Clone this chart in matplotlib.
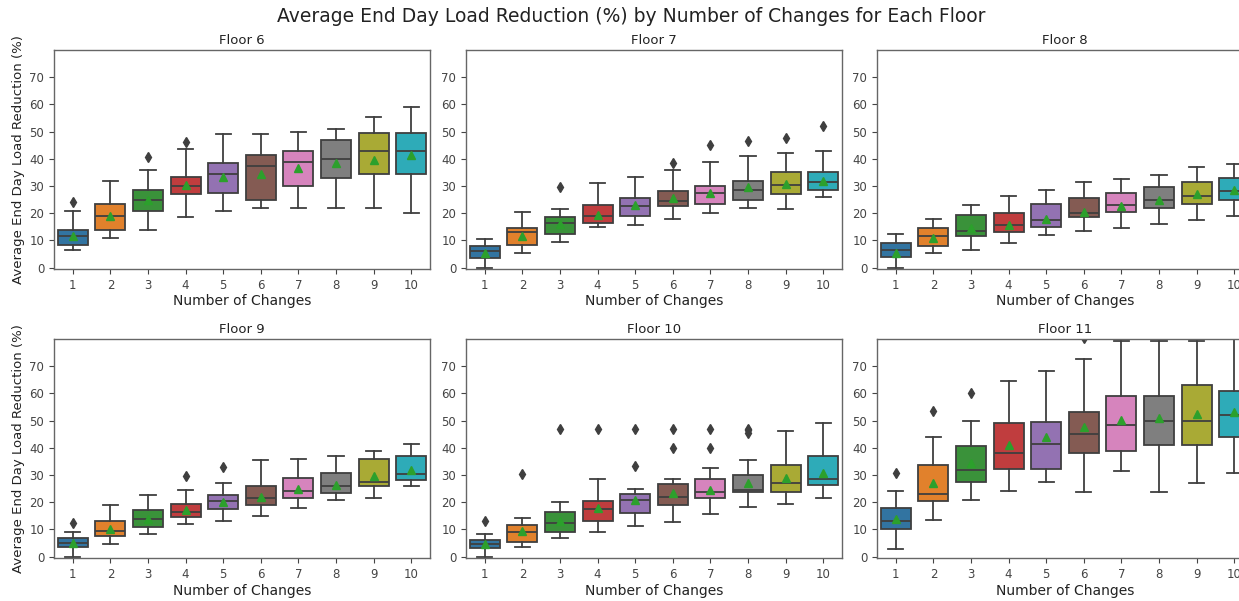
import colorsys
import matplotlib
matplotlib.use("Agg")
import matplotlib.pyplot as plt
import matplotlib.colors as mcolors

changes = [1, 2, 3, 4, 5, 6, 7, 8, 9, 10]
floors = ["Floor 6", "Floor 7", "Floor 8", "Floor 9", "Floor 10", "Floor 11"]

# per floor: lists over number of changes 1..10
f6_q1 = [8.5, 14, 21, 27, 27.5, 25, 30, 33, 34.5, 34.5]
f6_med = [11.5, 19, 25, 30, 34.5, 37.5, 39, 40, 43, 43]
f6_q3 = [14, 23.5, 28.5, 33.5, 38.5, 41.5, 43, 47, 49.5, 49.5]
f6_lo = [6.5, 11, 14, 18.5, 21, 22, 22, 22, 22, 20]
f6_hi = [21, 32, 36, 43.5, 49, 49, 50, 51, 55.5, 59]
f6_mean = [11.5, 19, 25, 30.3, 33.5, 34.5, 36.5, 38.5, 39.5, 41.5]
f6_fl = [[24], [], [40.5], [46], [], [], [], [], [], []]

f7_q1 = [3.5, 8.5, 12.5, 16.5, 19, 22.5, 23.5, 25, 27, 28.5]
f7_med = [6, 13, 16.5, 19, 22.5, 24.5, 27.5, 28.5, 30.5, 31.5]
f7_q3 = [8, 14.5, 18.5, 23, 25.5, 28, 30, 32, 35, 35]
f7_lo = [0, 5.5, 9.5, 15, 15.5, 18, 20, 22, 21.5, 26]
f7_hi = [10.5, 20.5, 21.5, 31, 33.5, 36, 39, 41, 42, 43]
f7_mean = [5.5, 11.5, 16, 19.5, 23, 25.5, 27.5, 29.5, 30.8, 32]
f7_fl = [[], [], [29.5], [], [], [38.5], [45], [46.5], [47.5], [52]]

f8_q1 = [4, 8, 11.5, 13, 15, 18.5, 20.5, 22, 23.5, 25]
f8_med = [6.5, 11.5, 13.5, 15.5, 17.5, 20, 23, 25, 26.5, 28]
f8_q3 = [9, 14.5, 19.5, 20, 23.5, 25.5, 27.5, 29.5, 31.5, 33]
f8_lo = [0, 5.5, 6.5, 9, 12, 13.5, 14.5, 16, 17.5, 19]
f8_hi = [12.5, 18, 23, 26.5, 28.5, 31.5, 32.5, 34, 37, 38]
f8_mean = [5.5, 11, 14.5, 15.7, 18, 20.5, 22.8, 25, 27, 28.5]
f8_fl = [[], [], [], [], [], [], [], [], [], []]

f9_q1 = [3.5, 7.5, 11, 14.5, 17.5, 19, 21.5, 23.5, 26, 28]
f9_med = [5, 9.5, 14, 16.5, 20.5, 21.5, 24, 26, 27.5, 30.5]
f9_q3 = [7, 13, 17, 19.5, 22.5, 26, 29, 30.8, 36, 37]
f9_lo = [0, 4.5, 8.5, 12, 13, 15, 18, 21, 21.5, 26]
f9_hi = [9, 19, 22.5, 24.5, 27, 35.5, 36, 37, 39, 41.5]
f9_mean = [5, 10, 14, 17, 20, 22, 25, 26.5, 29.7, 31.8]
f9_fl = [[12.5], [], [], [29.5], [33], [], [], [], [], []]

f10_q1 = [3, 5.5, 9, 13, 16, 19, 21.5, 23.6, 23.6, 26.2]
f10_med = [4.7, 9, 12.2, 17.4, 20.8, 21.8, 23.6, 24.6, 27.1, 28.7]
f10_q3 = [6, 11.8, 16.4, 20.6, 23, 26.7, 28.7, 30, 33.6, 37]
f10_lo = [0, 3.5, 7, 9, 11.3, 12.6, 15.7, 18.3, 19.2, 21.7]
f10_hi = [8.4, 14.2, 20, 28.7, 24.8, 28.7, 32.7, 35.5, 46.2, 49]
f10_mean = [4.5, 9.6, 13.2, 17.8, 21, 23.4, 24.6, 26.9, 29, 30.6]
f10_fl = [[13.2], [30.4], [47], [47], [33.4, 47], [40, 47], [40, 47], [45.6, 46.4, 47], [], []]

f11_q1 = [10, 20.6, 27.5, 32.3, 32.3, 38, 38.7, 41.2, 41.2, 44]
f11_med = [13, 23, 32, 38.2, 41.5, 45.1, 48.3, 50, 50, 52]
f11_q3 = [18, 33.6, 40.6, 49, 49.5, 53, 59, 59, 63.1, 61]
f11_lo = [2.8, 13.6, 21, 24.2, 27.6, 23.8, 31.5, 23.8, 27.2, 30.6]
f11_hi = [24.3, 44, 50, 64.5, 68.3, 72.7, 79.2, 79.2, 79.2, 84]
f11_mean = [14, 27, 34.5, 40.9, 44, 47.7, 50.1, 51, 52.5, 53]
f11_fl = [[30.9], [53.5], [60], [], [], [80.2], [], [], [], []]

data = [
    (f6_q1, f6_med, f6_q3, f6_lo, f6_hi, f6_mean, f6_fl),
    (f7_q1, f7_med, f7_q3, f7_lo, f7_hi, f7_mean, f7_fl),
    (f8_q1, f8_med, f8_q3, f8_lo, f8_hi, f8_mean, f8_fl),
    (f9_q1, f9_med, f9_q3, f9_lo, f9_hi, f9_mean, f9_fl),
    (f10_q1, f10_med, f10_q3, f10_lo, f10_hi, f10_mean, f10_fl),
    (f11_q1, f11_med, f11_q3, f11_lo, f11_hi, f11_mean, f11_fl),
]


def desat(c, prop=0.75):
    r, g, b = mcolors.to_rgb(c)
    h, l, s = colorsys.rgb_to_hls(r, g, b)
    return colorsys.hls_to_rgb(h, l, s * prop)


palette = [desat(c) for c in plt.get_cmap("tab10").colors]
line_col = "#3f3f3f"

W, H = 1239, 601
fig = plt.figure(figsize=(W / 100, H / 100), dpi=100)
fig.patch.set_facecolor("white")

lefts = [54, 466, 877]
tops = [50, 339]
aw, ah = 376, 219

for idx, (name, d) in enumerate(zip(floors, data)):
    r, c = divmod(idx, 3)
    left = lefts[c] / W
    bottom = 1 - (tops[r] + ah) / H
    ax = fig.add_axes([left, bottom, aw / W, ah / H])
    q1, med, q3, lo, hi, mean, fl = d
    stats = []
    for i in range(len(changes)):
        stats.append(dict(q1=q1[i], med=med[i], q3=q3[i], whislo=lo[i],
                          whishi=hi[i], mean=mean[i], fliers=fl[i],
                          label=str(changes[i])))
    bp = ax.bxp(stats, positions=list(range(len(changes))), widths=0.8,
                showmeans=True, patch_artist=True,
                boxprops=dict(edgecolor=line_col, linewidth=1.3),
                medianprops=dict(color=line_col, linewidth=1.3),
                whiskerprops=dict(color=line_col, linewidth=1.3),
                capprops=dict(color=line_col, linewidth=1.3),
                meanprops=dict(marker="^", markerfacecolor="#2ca02c",
                               markeredgecolor="#2ca02c", markersize=6),
                flierprops=dict(marker="d", markerfacecolor=line_col,
                                markeredgecolor=line_col, markersize=5))
    for patch, col in zip(bp["boxes"], palette):
        patch.set_facecolor(col)
    ax.set_xlim(-0.5, len(changes) - 0.5)
    ax.set_ylim(-0.5, 80)
    ax.set_yticks([0, 10, 20, 30, 40, 50, 60, 70])
    ax.set_xticks(range(len(changes)))
    ax.set_xticklabels([str(v) for v in changes])
    ax.tick_params(labelsize=8.5, colors="#444444", length=3.5, width=0.8)
    for sp in ax.spines.values():
        sp.set_color("#666666")
        sp.set_linewidth(1.0)
    ax.set_title(name, fontsize=9.5, color="#222222", pad=4)
    ax.set_xlabel("Number of Changes", fontsize=10, color="#222222", labelpad=2)
    if c == 0:
        ax.set_ylabel("Average End Day Load Reduction (%)", fontsize=9.5,
                      color="#222222", labelpad=3)

fig.text(631 / W, 1 - 16 / H,
         "Average End Day Load Reduction (%) by Number of Changes for Each Floor",
         ha="center", va="center", fontsize=13.5, color="#222222")

fig.savefig("out.png", dpi=100, facecolor="white")
